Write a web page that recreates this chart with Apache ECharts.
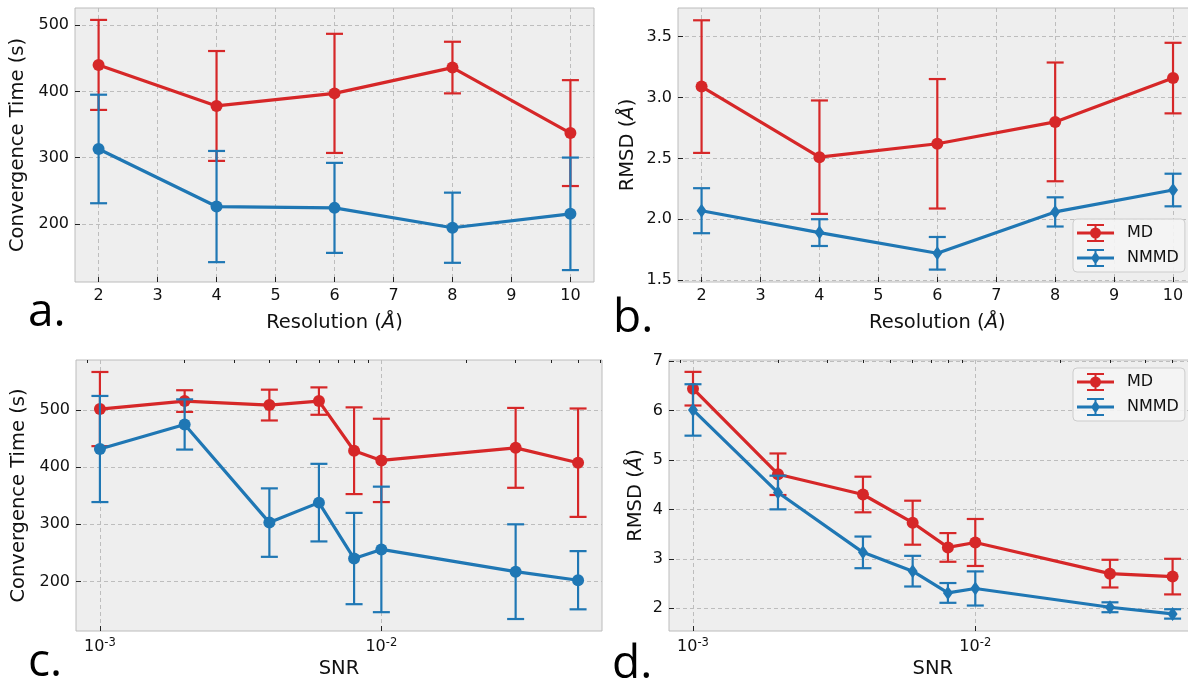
<!DOCTYPE html>
<html><head><meta charset="utf-8">
<script src="https://cdn.jsdelivr.net/npm/echarts@6/dist/echarts.min.js"></script>
<style>html,body{margin:0;padding:0;background:#fff}#c{width:1188px;height:681px}</style>
</head><body><div id="c"></div><script>
// ---------- data ----------
const resolution = [2, 4, 6, 8, 10];
const resTicks = [2, 3, 4, 5, 6, 7, 8, 9, 10];

const timeResMD = [440, 378, 397, 436, 337];
const timeResMDErr = [68, 83, 90, 39, 80];
const timeResNMMD = [313, 226, 224, 194, 215];
const timeResNMMDErr = [82, 84, 68, 53, 85];

const rmsdResMD = [3.09, 2.51, 2.62, 2.80, 3.16];
const rmsdResMDErr = [0.545, 0.466, 0.532, 0.488, 0.29];
const rmsdResNMMD = [2.07, 1.89, 1.72, 2.06, 2.24];
const rmsdResNMMDErr = [0.185, 0.11, 0.134, 0.12, 0.134];

const snr = [0.001, 0.002, 0.004, 0.006, 0.008, 0.01, 0.03, 0.05];
const snrMajor = [0.001, 0.01];
const snrMinor = [0.0009, 0.002, 0.003, 0.004, 0.005, 0.006, 0.007, 0.008, 0.009, 0.02, 0.03, 0.04, 0.05, 0.06];

const timeSnrMD = [502, 516, 509, 516, 429, 412, 434, 408];
const timeSnrMDErr = [65, 19, 27, 24, 76, 73, 70, 95];
const timeSnrNMMD = [432, 475, 303, 338, 240, 256, 217, 202];
const timeSnrNMMDErr = [93, 44, 60, 68, 80, 110, 83, 51];

const rmsdSnrMD = [6.44, 4.71, 4.30, 3.73, 3.23, 3.33, 2.70, 2.64];
const rmsdSnrMDErr = [0.34, 0.42, 0.36, 0.445, 0.29, 0.475, 0.28, 0.36];
const rmsdSnrNMMD = [6.01, 4.34, 3.13, 2.75, 2.31, 2.40, 2.02, 1.885];
const rmsdSnrNMMDErr = [0.52, 0.34, 0.32, 0.31, 0.2, 0.345, 0.1, 0.095];

const timeTicks = [200, 300, 400, 500];
const rmsdResTicks = [1.5, 2.0, 2.5, 3.0, 3.5];
const rmsdSnrTicks = [2, 3, 4, 5, 6, 7];

// ---------- style ----------
const RED = '#d62728', BLUE = '#1f77b4';
const FONT = 'DejaVu Sans';
const TXT = '#111';

function errSeries(xs, ys, errs, color, xi, yi, z) {
  return {
    type: 'custom', name: 'err' + xi + color, xAxisIndex: xi, yAxisIndex: yi, z: z, silent: true,
    data: xs.map((x, i) => [x, ys[i], errs[i]]),
    encode: { x: 0, y: 1 },
    renderItem: function (params, api) {
      const x = api.value(0), y = api.value(1), e = api.value(2);
      const p1 = api.coord([x, y + e]);
      const p2 = api.coord([x, y - e]);
      const hw = 8.5;
      const st = { stroke: color, lineWidth: 2.2 };
      return { type: 'group', children: [
        { type: 'line', shape: { x1: p1[0], y1: p1[1], x2: p2[0], y2: p2[1] }, style: st },
        { type: 'line', shape: { x1: p1[0] - hw, y1: p1[1], x2: p1[0] + hw, y2: p1[1] }, style: st },
        { type: 'line', shape: { x1: p2[0] - hw, y1: p2[1], x2: p2[0] + hw, y2: p2[1] }, style: st }
      ]};
    }
  };
}
function lineSeries(name, xs, ys, color, xi, yi, z, symbol, size) {
  return {
    type: 'line', name: name, xAxisIndex: xi, yAxisIndex: yi, z: z, silent: true,
    data: xs.map((x, i) => [x, ys[i]]),
    symbol: symbol, symbolSize: size, showSymbol: true,
    itemStyle: { color: color, borderWidth: 0 },
    lineStyle: { color: color, width: 3.2 }
  };
}

const splitLine = { show: true, lineStyle: { color: '#bdbdbd', type: [4, 3], width: 1 } };
const labelStyle = { fontSize: 16, color: TXT, fontFamily: FONT };
const nameStyle = { fontSize: 19.5, color: TXT, fontFamily: FONT,
  rich: { a: { fontSize: 19.5, fontStyle: 'italic', fontFamily: FONT, color: TXT } } };
const tick = (vals) => ({ show: true, inside: true, length: 5, customValues: vals, lineStyle: { color: '#222', width: 1 } });

function valX(gi, name, gap) {
  return { type: 'value', gridIndex: gi, min: 1.6, max: 10.4,
    axisLine: { show: false }, axisTick: tick(resTicks),
    axisLabel: Object.assign({ customValues: resTicks, margin: 6 }, labelStyle),
    splitLine: splitLine,
    name: name, nameLocation: 'middle', nameGap: gap, nameTextStyle: nameStyle };
}
function logX(gi, gap) {
  return { type: 'log', logBase: 10, gridIndex: gi, min: Math.pow(10, -3.085), max: Math.pow(10, -1.216),
    axisLine: { show: false }, axisTick: tick(snrMajor),
    axisLabel: Object.assign({ customValues: snrMajor, margin: 6,
      formatter: v => '10{sup|' + Math.round(Math.log10(v)) + '}',
      rich: { sup: { fontSize: 11.5, fontFamily: FONT, color: TXT, padding: [0, 0, 8, 0] } } }, labelStyle),
    splitLine: splitLine,
    name: 'SNR', nameLocation: 'middle', nameGap: gap, nameTextStyle: nameStyle };
}
function minorX(gi) {
  return { type: 'log', logBase: 10, gridIndex: gi, min: Math.pow(10, -3.085), max: Math.pow(10, -1.216),
    axisLine: { show: false }, axisLabel: { show: false }, splitLine: { show: false },
    axisTick: { show: true, inside: true, length: 3, customValues: snrMinor, lineStyle: { color: '#222', width: 1 } } };
}
function valY(gi, min, max, ticks, name, gap, dec) {
  return { type: 'value', gridIndex: gi, min: min, max: max,
    axisLine: { show: false }, axisTick: tick(ticks),
    axisLabel: Object.assign({ customValues: ticks, margin: 6, formatter: v => v.toFixed(dec) }, labelStyle),
    splitLine: splitLine,
    name: name, nameLocation: 'middle', nameGap: gap, nameTextStyle: nameStyle };
}

const iconMD = 'path://M0,7.5L37,7.5L37,10.5L0,10.5Z M17.5,1L19.5,1L19.5,17L17.5,17Z M10,0L27,0L27,2L10,2Z M10,16L27,16L27,18L10,18Z M13,9A5.5,5.5 0 1 1 24,9A5.5,5.5 0 1 1 13,9Z';
const iconNM = 'path://M0,7.5L37,7.5L37,10.5L0,10.5Z M17.5,1L19.5,1L19.5,17L17.5,17Z M10,0L27,0L27,2L10,2Z M10,16L27,16L27,18L10,18Z M18.5,2.5L23,9L18.5,15.5L14,9Z';

function legend(top) {
  return { left: 1073, top: top, orient: 'vertical', selectedMode: false,
    data: [{ name: 'MD', icon: iconMD }, { name: 'NMMD', icon: iconNM }],
    itemWidth: 37, itemHeight: 18, itemGap: 7, padding: [5, 6, 5, 4],
    backgroundColor: 'rgba(244,244,244,0.9)', borderColor: '#cccccc', borderWidth: 1, borderRadius: 4,
    itemStyle: { borderWidth: 0 },
    textStyle: { fontSize: 16, fontFamily: FONT, color: TXT, padding: [0, 0, 0, 8] } };
}

const gridBase = { show: true, backgroundColor: '#eeeeee', borderColor: '#bcbcbc', borderWidth: 1, containLabel: false, outerBoundsMode: 'none' };

const option = {
  animation: false,
  backgroundColor: '#ffffff',
  grid: [
    Object.assign({ left: 75, top: 8, width: 519, height: 274 }, gridBase),
    Object.assign({ left: 678, top: 8, width: 518.6, height: 274 }, gridBase),
    Object.assign({ left: 76, top: 360, width: 526, height: 271 }, gridBase),
    Object.assign({ left: 669, top: 360, width: 527.6, height: 271 }, gridBase)
  ],
  xAxis: [
    valX(0, 'Resolution ({a|Å})', 31),
    valX(1, 'Resolution ({a|Å})', 31),
    logX(2, 28),
    logX(3, 28),
    minorX(2),
    minorX(3)
  ],
  yAxis: [
    valY(0, 112, 526, timeTicks, 'Convergence Time (s)', 47, 0),
    valY(1, 1.484, 3.736, rmsdResTicks, 'RMSD ({a|Å})', 40, 1),
    valY(2, 113, 588, timeTicks, 'Convergence Time (s)', 47, 0),
    valY(3, 1.54, 7.02, rmsdSnrTicks, 'RMSD ({a|Å})', 23, 0)
  ],
  legend: [legend(219), legend(368)],
  series: [
    errSeries(resolution, timeResMD, timeResMDErr, RED, 0, 0, 2),
    lineSeries('MD', resolution, timeResMD, RED, 0, 0, 3, 'circle', 12),
    errSeries(resolution, timeResNMMD, timeResNMMDErr, BLUE, 0, 0, 4),
    lineSeries('NMMD', resolution, timeResNMMD, BLUE, 0, 0, 5, 'circle', 12),

    errSeries(resolution, rmsdResMD, rmsdResMDErr, RED, 1, 1, 2),
    lineSeries('MD', resolution, rmsdResMD, RED, 1, 1, 3, 'circle', 12),
    errSeries(resolution, rmsdResNMMD, rmsdResNMMDErr, BLUE, 1, 1, 4),
    lineSeries('NMMD', resolution, rmsdResNMMD, BLUE, 1, 1, 5, 'diamond', [10, 14]),

    errSeries(snr, timeSnrMD, timeSnrMDErr, RED, 2, 2, 2),
    lineSeries('MD', snr, timeSnrMD, RED, 2, 2, 3, 'circle', 12),
    errSeries(snr, timeSnrNMMD, timeSnrNMMDErr, BLUE, 2, 2, 4),
    lineSeries('NMMD', snr, timeSnrNMMD, BLUE, 2, 2, 5, 'circle', 12),

    errSeries(snr, rmsdSnrMD, rmsdSnrMDErr, RED, 3, 3, 2),
    lineSeries('MD', snr, rmsdSnrMD, RED, 3, 3, 3, 'circle', 12),
    errSeries(snr, rmsdSnrNMMD, rmsdSnrNMMDErr, BLUE, 3, 3, 4),
    lineSeries('NMMD', snr, rmsdSnrNMMD, BLUE, 3, 3, 5, 'diamond', [10, 14])
  ],
  graphic: [
    { type: 'text', left: 28, top: 290, style: { text: 'a.', font: '46px "Open Sans"', fill: '#000' } },
    { type: 'text', left: 613, top: 296, style: { text: 'b.', font: '46px "Open Sans"', fill: '#000' } },
    { type: 'text', left: 28, top: 640, style: { text: 'c.', font: '46px "Open Sans"', fill: '#000' } },
    { type: 'text', left: 612, top: 642, style: { text: 'd.', font: '46px "Open Sans"', fill: '#000' } }
  ]
};
const chart = echarts.init(document.getElementById('c'), null, { renderer: 'canvas' });
chart.setOption(option);
</script></body></html>
